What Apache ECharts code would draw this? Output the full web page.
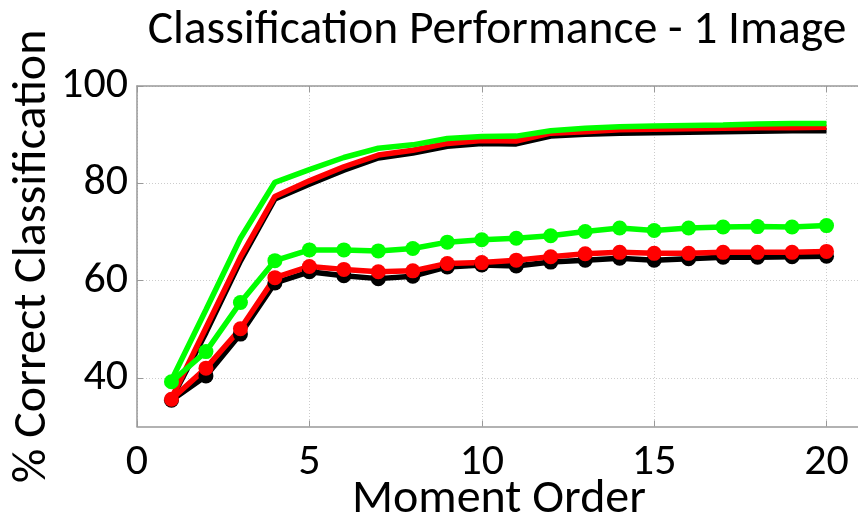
<!DOCTYPE html>
<html>
<head>
<meta charset="utf-8">
<script src="https://cdn.jsdelivr.net/npm/echarts@6/dist/echarts.min.js"></script>
<style>
html,body{margin:0;padding:0;background:#fff;}
#chart{width:858px;height:518px;}
</style>
</head>
<body>
<div id="chart"></div>
<script>
const titleText = 'Classification Performance - 1 Image';
const xName = 'Moment Order';
const yName = '% Correct Classification';
const xTicks = [0, 5, 10, 15, 20];
const yTicks = [40, 60, 80, 100];
const moments = [1,2,3,4,5,6,7,8,9,10,11,12,13,14,15,16,17,18,19,20];

const blackTop = [35.6, 49.3, 64.0, 76.8, 79.8, 82.7, 85.2, 86.2, 87.6, 88.2, 88.1, 89.7, 90.1, 90.3, 90.4, 90.5, 90.6, 90.7, 90.8, 90.8];
const redTop   = [35.8, 50.3, 64.8, 77.3, 80.5, 83.4, 85.8, 86.8, 88.2, 88.8, 88.7, 90.3, 90.6, 91.0, 91.1, 91.2, 91.3, 91.4, 91.4, 91.5];
const greenTop = [39.5, 54.0, 68.7, 80.2, 82.8, 85.3, 87.2, 87.9, 89.2, 89.6, 89.7, 90.8, 91.3, 91.6, 91.8, 91.9, 92.0, 92.2, 92.3, 92.3];

const blackDots = [35.4, 40.4, 49.0, 59.5, 61.8, 61.0, 60.4, 60.9, 62.8, 63.2, 63.0, 63.8, 64.2, 64.6, 64.2, 64.5, 64.8, 64.8, 64.9, 65.0];
const redDots   = [35.6, 42.0, 50.1, 60.6, 62.9, 62.3, 61.8, 62.0, 63.5, 63.7, 64.2, 64.9, 65.5, 65.8, 65.6, 65.6, 65.8, 65.8, 65.8, 66.0];
const greenDots = [39.2, 45.4, 55.5, 64.1, 66.3, 66.3, 66.1, 66.6, 67.9, 68.4, 68.7, 69.2, 70.1, 70.8, 70.3, 70.8, 71.0, 71.1, 71.0, 71.3];

const FONT = 'Carlito, Lato, sans-serif';
const pairs = arr => moments.map((m, i) => [m, arr[i]]);

function lineSeries(data, color, dots) {
  return {
    type: 'line',
    data: pairs(data),
    showSymbol: dots,
    symbol: 'circle',
    symbolSize: dots ? 15 : 0,
    lineStyle: {color: color, width: 5.5},
    itemStyle: {color: color},
    animation: false,
    silent: true,
    z: 3
  };
}

const chart = echarts.init(document.getElementById('chart'), null, {renderer: 'canvas'});
chart.setOption({
  backgroundColor: '#fff',
  animation: false,
  title: {
    text: titleText,
    left: 492,
    top: 2,
    textAlign: 'center',
    textStyle: {fontFamily: FONT, fontSize: 47.5, fontWeight: 'normal', color: '#000'}
  },
  grid: {left: 137, right: -3, top: 86, bottom: 91.5, containLabel: false, outerBoundsMode: 'none'},
  xAxis: [{
    type: 'value', min: 0, max: 21, position: 'bottom',
    name: xName, nameLocation: 'middle', nameGap: 49, nameMoveOverlap: false,
    nameTextStyle: {fontFamily: FONT, fontSize: 48, color: '#000'},
    axisLine: {show: true, onZero: false, lineStyle: {color: '#999', width: 1.5}},
    axisTick: {show: true, inside: true, length: 6, customValues: xTicks, lineStyle: {color: '#999'}},
    axisLabel: {customValues: xTicks, margin: 14, fontFamily: FONT, fontSize: 44, color: '#000'},
    splitLine: {show: true, lineStyle: {color: '#ccc', type: [1, 2], width: 1}}
  }, {
    type: 'value', min: 0, max: 21, position: 'top',
    axisLine: {show: true, onZero: false, lineStyle: {color: '#999', width: 1.5}},
    axisTick: {show: true, inside: true, length: 6, customValues: xTicks, lineStyle: {color: '#999'}},
    axisLabel: {show: false},
    splitLine: {show: false}
  }],
  yAxis: [{
    type: 'value', min: 30, max: 100,
    name: yName, nameLocation: 'middle', nameGap: 80, nameRotate: 90, nameMoveOverlap: false,
    nameTextStyle: {fontFamily: FONT, fontSize: 48, color: '#000'},
    axisLine: {show: true, onZero: false, lineStyle: {color: '#999', width: 1.5}},
    axisTick: {show: true, inside: true, length: 6, customValues: yTicks, lineStyle: {color: '#999'}},
    axisLabel: {customValues: yTicks, margin: 9, fontFamily: FONT, fontSize: 44, color: '#000'},
    splitLine: {show: true, lineStyle: {color: '#ccc', type: [1, 2], width: 1}}
  }],
  series: [
    lineSeries(blackTop, '#000000', false),
    lineSeries(redTop, '#ff0000', false),
    lineSeries(greenTop, '#00ff00', false),
    lineSeries(blackDots, '#000000', true),
    lineSeries(redDots, '#ff0000', true),
    lineSeries(greenDots, '#00ff00', true)
  ]
});
</script>
</body>
</html>
